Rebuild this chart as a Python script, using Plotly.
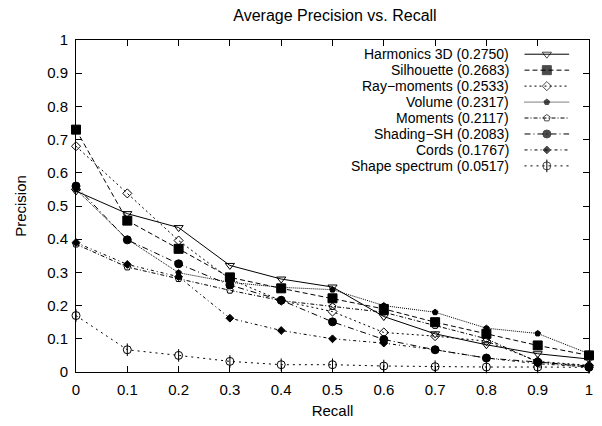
import plotly.graph_objects as go

recall = [0, 0.1, 0.2, 0.3, 0.4, 0.5, 0.6, 0.7, 0.8, 0.9, 1.0]

harmonics_3d = [0.545, 0.477, 0.435, 0.321, 0.280, 0.256, 0.167, 0.115, 0.082, 0.055, 0.039]
silhouette = [0.730, 0.456, 0.371, 0.285, 0.252, 0.222, 0.190, 0.150, 0.115, 0.080, 0.050]
ray_moments = [0.680, 0.538, 0.396, 0.280, 0.215, 0.182, 0.119, 0.108, 0.093, 0.032, 0.020]
volume = [0.550, 0.400, 0.299, 0.270, 0.255, 0.248, 0.200, 0.180, 0.132, 0.116, 0.055]
moments = [0.385, 0.316, 0.281, 0.246, 0.215, 0.197, 0.180, 0.140, 0.100, 0.030, 0.018]
shading_sh = [0.560, 0.398, 0.326, 0.262, 0.216, 0.151, 0.098, 0.067, 0.042, 0.030, 0.015]
cords = [0.390, 0.324, 0.287, 0.162, 0.125, 0.100, 0.087, 0.067, 0.042, 0.025, 0.015]
shape_spectrum = [0.170, 0.067, 0.050, 0.032, 0.022, 0.022, 0.018, 0.016, 0.015, 0.015, 0.014]

names = [
    "Harmonics 3D (0.2750)",
    "Silhouette (0.2683)",
    "Ray\u2212moments (0.2533)",
    "Volume (0.2317)",
    "Moments (0.2117)",
    "Shading\u2212SH (0.2083)",
    "Cords (0.1767)",
    "Shape spectrum (0.0517)",
]
series = [harmonics_3d, silhouette, ray_moments, volume, moments, shading_sh, cords, shape_spectrum]
dashes = ["solid", "5px,3px", "2px,3px", "1px,1px", "4px,2px,1px,2px", "6px,3px,1px,3px", "3px,3px,1px,3px", "2px,4px"]
symbols = ["triangle-down-open", "square", "diamond-open", "pentagon", "pentagon-open", "circle", "diamond", "circle-open"]
sizes = [8, 9, 7, 6, 7, 8, 6, 8]

tick_vals = [0, 0.1, 0.2, 0.3, 0.4, 0.5, 0.6, 0.7, 0.8, 0.9, 1.0]
tick_text = ["0", "0.1", "0.2", "0.3", "0.4", "0.5", "0.6", "0.7", "0.8", "0.9", "1"]

FONT = "Liberation Sans, Arial, Helvetica, sans-serif"
W, H = 602, 426
ML, MR, MT, MB = 76, 9, 40, 52
PW, PH = W - ML - MR, H - MT - MB

fig = go.Figure()
for name, ys, dash, sym, sz in zip(names, series, dashes, symbols, sizes):
    fig.add_trace(go.Scatter(
        x=recall, y=ys, name=name, mode="lines+markers", cliponaxis=False,
        line=dict(color="black", width=1, dash=dash),
        marker=dict(symbol=sym, size=sz, color="black", line=dict(color="black", width=1)),
        showlegend=False,
    ))

# vertical stroke inside the shape-spectrum circles
fig.add_trace(go.Scatter(
    x=recall, y=shape_spectrum, mode="markers", showlegend=False, cliponaxis=False,
    marker=dict(symbol="line-ns-open", size=9, color="black", line=dict(color="black", width=1)),
))

# gnuplot-style key: right-aligned text, sample to the right (drawn on an overlay axis in plot fractions)
key_text_right = 513      # px
key_sample_x0, key_sample_x1 = 528, 573
key_row0, key_row_step = 54.3, 16.05
annotations = []
for i, (name, dash, sym, sz) in enumerate(zip(names, dashes, symbols, sizes)):
    py = key_row0 + i * key_row_step
    fy = (H - MB - py) / PH
    fx0 = (key_sample_x0 - ML) / PW
    fx1 = (key_sample_x1 - ML) / PW
    fxm = (fx0 + fx1) / 2
    fig.add_trace(go.Scatter(
        x=[fx0, fxm, fx1], y=[fy, fy, fy], xaxis="x2", yaxis="y2",
        mode="lines+markers", showlegend=False, hoverinfo="skip", cliponaxis=False,
        line=dict(color="black", width=1, dash=dash),
        marker=dict(symbol=sym, size=[0, sz, 0], color="black", line=dict(color="black", width=1)),
    ))
    if sym == "circle-open":
        fig.add_trace(go.Scatter(
            x=[fxm], y=[fy], xaxis="x2", yaxis="y2", mode="markers", showlegend=False,
            hoverinfo="skip", cliponaxis=False,
            marker=dict(symbol="line-ns-open", size=9, color="black", line=dict(color="black", width=1)),
        ))
    annotations.append(dict(
        text=name, xref="x2", yref="y2", x=(key_text_right - ML) / PW, y=fy,
        xanchor="right", yanchor="middle", showarrow=False, borderpad=0,
        font=dict(family=FONT, size=14, color="black"),
    ))

axis_common = dict(
    range=[0, 1], tickvals=tick_vals, ticktext=tick_text,
    ticks="inside", ticklen=6, tickcolor="black", tickwidth=1,
    showline=True, linecolor="black", linewidth=1, mirror="ticks",
    showgrid=False, zeroline=False, ticklabeloverflow="allow",
    tickfont=dict(family=FONT, size=15, color="black"),
)

fig.update_layout(
    width=W, height=H,
    margin=dict(l=ML, r=MR, t=MT, b=MB),
    paper_bgcolor="white", plot_bgcolor="white",
    title=dict(text="Average Precision vs. Recall", x=335 / W, xanchor="center",
               y=1 - 15 / H, yanchor="middle",
               font=dict(family=FONT, size=16, color="black")),
    xaxis=dict(title=dict(text="Recall", standoff=8, font=dict(family=FONT, size=15, color="black")),
               ticklabelstandoff=4, **axis_common),
    yaxis=dict(title=dict(text="Precision", standoff=16, font=dict(family=FONT, size=15, color="black")),
               ticklabelstandoff=4, **axis_common),
    xaxis2=dict(overlaying="x", range=[0, 1], visible=False, fixedrange=True),
    yaxis2=dict(overlaying="y", range=[0, 1], visible=False, fixedrange=True),
    annotations=annotations,
    showlegend=False,
)

fig.write_html(
    "out.html",
    config={"displayModeBar": False},
    post_script="document.body.style.margin='0';document.body.style.overflow='hidden';",
)
